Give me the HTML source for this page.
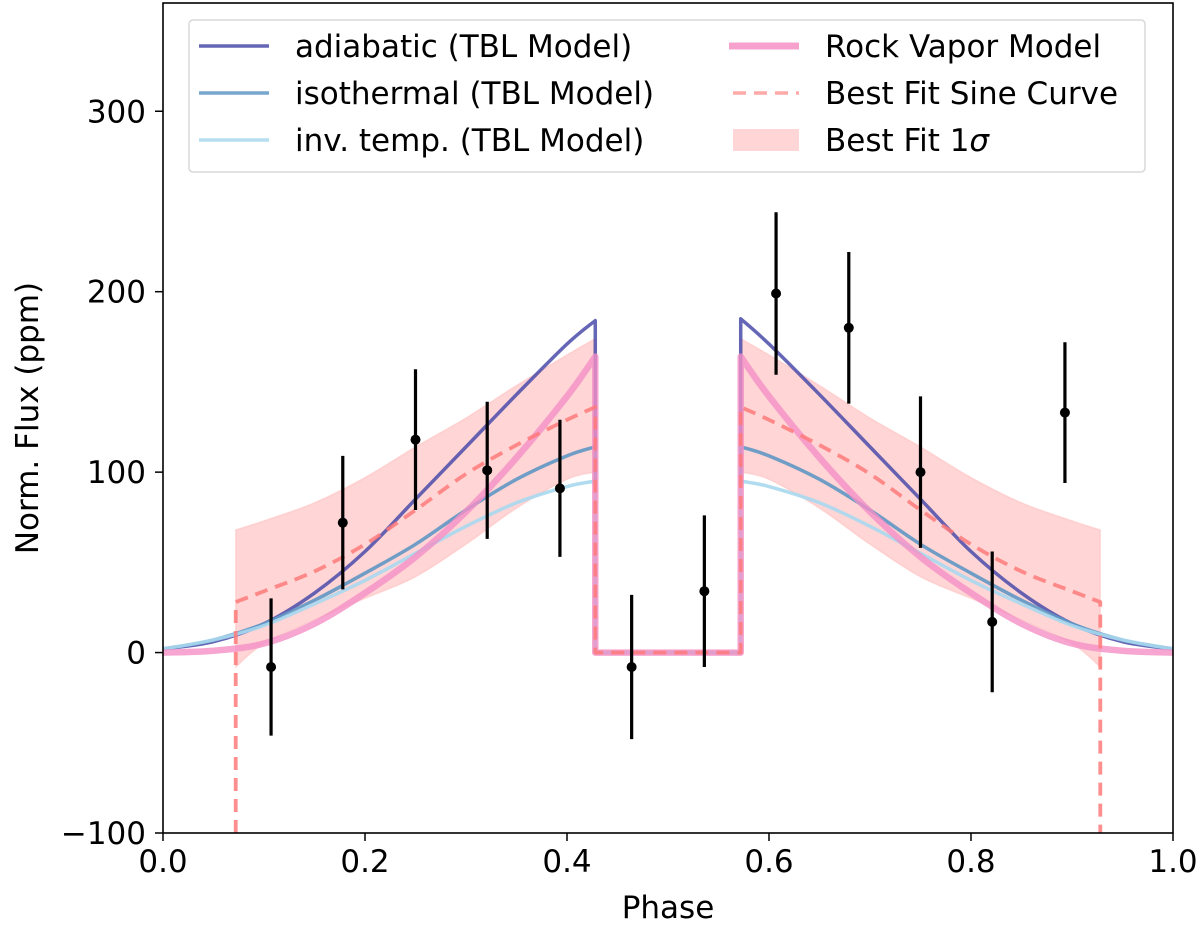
<!DOCTYPE html>
<html><head><meta charset="utf-8"><style>
body{margin:0;background:#fff;}
svg{display:block;font-family:"DejaVu Sans","Liberation Sans",sans-serif;}
</style></head><body>
<svg id="chart" width="1200" height="929"></svg>
<script>
const modelPhase=[0,0.05,0.1,0.15,0.2,0.25,0.3,0.35,0.4,0.428,0.428,0.572,0.572,0.6,0.65,0.7,0.75,0.8,0.85,0.9,0.95,1.0];
const adiabatic=[2,6,16,33,56,85,114,143,171,184,0,0,185,171,143,114,85,56,33,16,6,2];
const isothermal=[2,7,16,29,44,60,79,96,109,114,0,0,114,109,96,79,60,44,29,16,7,2];
const invTemp=[2,7,15,27,40,55,70,83,92,95,0,0,95,92,83,70,55,40,27,15,7,2];
const rockVapor=[0,1,5,16,33,53,78,108,142,164,0,0,164,142,108,78,53,33,16,5,1,0];
const sinePhase=[0.072,0.072,0.1,0.15,0.2,0.25,0.3,0.35,0.4,0.428,0.428,0.572,0.572,0.6,0.65,0.7,0.75,0.8,0.85,0.9,0.928,0.928];
const sineFit=[-100,28,34,45,60,79,99,115,129,136,0,0,136,129,115,99,79,60,45,34,28,-100];
const bandPhaseLeft=[0.072,0.1,0.15,0.2,0.25,0.3,0.35,0.4,0.428];
const bandUpperLeft=[68,73,83,97,114,130,148,165,174];
const bandLowerLeft=[-8,5,18,30,42,60,80,96,100];
const bandPhaseRight=[0.572,0.6,0.65,0.7,0.75,0.8,0.85,0.9,0.928];
const bandUpperRight=[174,165,148,130,114,97,83,73,68];
const bandLowerRight=[100,96,80,60,42,30,18,5,-8];
const dataPhase=[0.107,0.178,0.25,0.321,0.393,0.464,0.536,0.607,0.679,0.75,0.821,0.893];
const dataFlux=[-8,72,118,101,91,-8,34,199,180,100,17,133];
const dataErr=[38,37,39,38,38,40,42,45,42,42,39,39];
const xTicks=[0,0.2,0.4,0.6,0.8,1.0];
const xTickLabels=["0.0","0.2","0.4","0.6","0.8","1.0"];
const yTicks=[-100,0,100,200,300];
const yTickLabels=["\u2212100","0","100","200","300"];

const L=163,R=1173,T=3,B=833,YMIN=-100,YMAX=360;
const X=v=>L+(v-0)/(1-0)*(R-L);
const Y=v=>B-(v-YMIN)/(YMAX-YMIN)*(B-T);
const svg=document.getElementById('chart');
const NS='http://www.w3.org/2000/svg';
function mk(tag,attrs,parent){const e=document.createElementNS(NS,tag);for(const k in attrs)e.setAttribute(k,attrs[k]);(parent||svg).appendChild(e);return e;}
const defs=mk('defs',{});
const cp=mk('clipPath',{id:'clip'},defs);mk('rect',{x:L,y:T,width:R-L,height:B-T},cp);
const plot=mk('g',{'clip-path':'url(#clip)'});



function smoothPath(pts,start){
  let d=start?'M'+pts[0][0]+','+pts[0][1]:'L'+pts[0][0]+','+pts[0][1];
  let segs=[[pts[0]]];
  for(let i=1;i<pts.length;i++){
    if(Math.abs(pts[i][0]-pts[i-1][0])<0.01) segs.push([pts[i]]); else segs[segs.length-1].push(pts[i]);
  }
  segs.forEach((s,si)=>{
    if(si>0)d+='L'+s[0][0]+','+s[0][1];
    for(let i=0;i<s.length-1;i++){
      const p0=s[Math.max(0,i-1)],p1=s[i],p2=s[i+1],p3=s[Math.min(s.length-1,i+2)];
      const c1=[p1[0]+(p2[0]-p0[0])/6,p1[1]+(p2[1]-p0[1])/6];
      const c2=[p2[0]-(p3[0]-p1[0])/6,p2[1]-(p3[1]-p1[1])/6];
      d+='C'+c1[0]+','+c1[1]+' '+c2[0]+','+c2[1]+' '+p2[0]+','+p2[1];
    }
  });
  return d;
}
function bandPoly(ph,up,lo,name){
  const top=ph.map((p,i)=>[X(p),Y(up[i])]);
  const bot=ph.map((p,i)=>[X(p),Y(lo[i])]).reverse();
  const d=smoothPath(top,true)+smoothPath(bot,false)+'Z';
  const e=mk('path',{d:d,fill:'#ffb3b3','fill-opacity':0.55,stroke:'#ffb3b3','stroke-opacity':0.4,'stroke-width':1.5},plot);
  
  
}
bandPoly(bandPhaseLeft,bandUpperLeft,bandLowerLeft,'best-fit-1sigma-band-left');
bandPoly(bandPhaseRight,bandUpperRight,bandLowerRight,'best-fit-1sigma-band-right');

function line(px,vals,color,w,name,dash,op){
  const pts=px.map((p,i)=>[X(p),Y(vals[i])]);
  const a={d:smoothPath(pts,true),fill:'none',stroke:color,'stroke-width':w,'stroke-linejoin':'round','stroke-opacity':op||1};
  if(dash)a['stroke-dasharray']=dash;
  const e=mk('path',a,plot);
  
  
}
line(modelPhase,adiabatic,'#4b4baa',3.5,'adiabatic-line',null,0.85);
line(modelPhase,isothermal,'#5f97c4',3.5,'isothermal-line',null,0.9);
line(modelPhase,invTemp,'#a8d8ee',3.5,'inv-temp-line',null,0.9);
line(modelPhase,rockVapor,'#f490c6',6.5,'rock-vapor-line',null,0.8);
line(sinePhase,sineFit,'#ff7a7a',3.8,'best-fit-sine-line','13,8',0.85);

dataPhase.forEach((p,i)=>{
  const g=mk('g',{},plot);
  
  
  mk('line',{x1:X(p),x2:X(p),y1:Y(dataFlux[i]-dataErr[i]),y2:Y(dataFlux[i]+dataErr[i]),stroke:'#000','stroke-width':3.2},g);
  mk('circle',{cx:X(p),cy:Y(dataFlux[i]),r:5,fill:'#000'},g);
});

const fr=mk('rect',{x:L,y:T,width:R-L,height:B-T,fill:'none',stroke:'#000','stroke-width':1.6});



xTicks.forEach((t,i)=>{
  mk('line',{x1:X(t),x2:X(t),y1:B,y2:B+8,stroke:'#000','stroke-width':1.5});
  const tx=mk('text',{x:X(t),y:B+39,'text-anchor':'middle','font-size':31},svg);
  tx.textContent=xTickLabels[i];
  
  
});
yTicks.forEach((t,i)=>{
  mk('line',{x1:L-8,x2:L,y1:Y(t),y2:Y(t),stroke:'#000','stroke-width':1.5});
  const tx=mk('text',{x:L-17,y:Y(t)+11,'text-anchor':'end','font-size':31},svg);
  tx.textContent=yTickLabels[i];
  
  
});
const xl=mk('text',{x:(L+R)/2,y:918,'text-anchor':'middle','font-size':31});
xl.textContent='Phase';


const yl=mk('text',{x:0,y:0,'text-anchor':'middle','font-size':31,transform:'translate(38,418) rotate(-90)'});
yl.textContent='Norm. Flux (ppm)';



const lg=mk('g',{});


mk('rect',{x:189,y:20,width:956,height:152,rx:4,fill:'#fff','fill-opacity':0.85,stroke:'#d8d8d8','stroke-width':1.5},lg);
const entries=[
 [199,'adiabatic (TBL Model)','#4b4baa',3.5,null,'line'],
 [199,'isothermal (TBL Model)','#5f97c4',3.5,null,'line'],
 [199,'inv. temp. (TBL Model)','#a8d8ee',3.5,null,'line'],
 [729,'Rock Vapor Model','#f490c6',7,null,'line'],
 [729,'Best Fit Sine Curve','#ff9a9a',3.5,'13,8','line'],
 [729,'Best Fit 1\u03c3','#ffb3b3',0,null,'patch']];
entries.forEach((e,i)=>{
  const row=i%3,y=46+row*47;
  const g=mk('g',{},lg);
  
  
  if(e[5]==='line'){const a={x1:e[0],x2:e[0]+70,y1:y,y2:y,stroke:e[2],'stroke-width':e[3],'stroke-opacity':0.85};if(e[4]){a['stroke-dasharray']=e[4];a.x1=e[0]+4;}mk('line',a,g);}
  else mk('rect',{x:e[0]+4,y:y-11,width:66,height:22,fill:e[2],'fill-opacity':0.55},g);
  const t=mk('text',{x:e[0]+96,y:y+11,'font-size':31},g);
  if(e[5]==='patch'){t.textContent='Best Fit 1';const s=mk('tspan',{'font-style':'italic'},t);s.textContent='\u03c3';}
  else t.textContent=e[1];
});
</script>
</body></html>
